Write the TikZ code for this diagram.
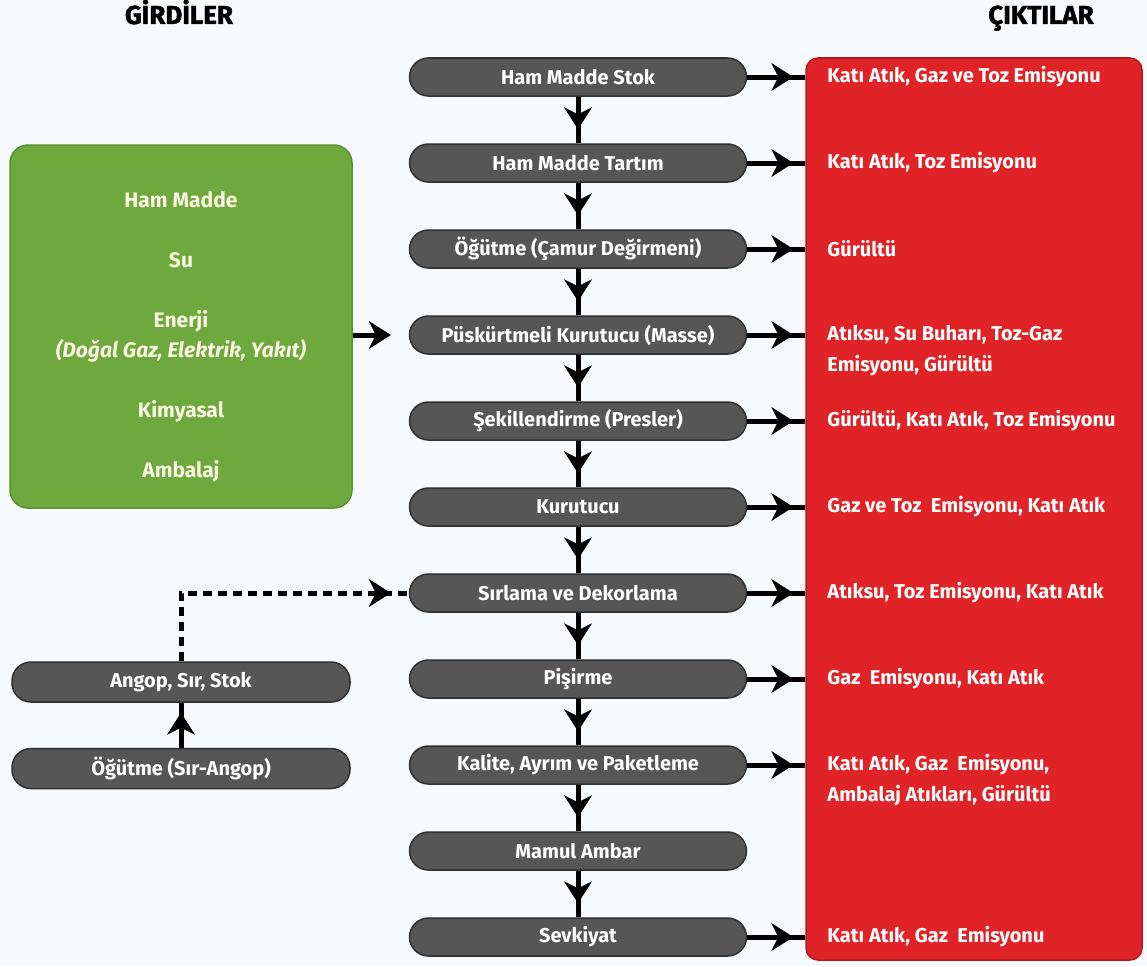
\documentclass[tikz,border=0pt]{standalone}
\usepackage{fontspec}
\setmainfont{Fira Sans}
\newfontfamily\headfont[FakeBold=1.5]{Fira Sans}
\usetikzlibrary{positioning,arrows.meta,decorations.markings}

\definecolor{adimgri}{HTML}{565656}
\definecolor{adimkenar}{HTML}{2F2F2F}
\definecolor{girdiyesil}{HTML}{6DA93C}
\definecolor{yesilkenar}{HTML}{5B9231}
\definecolor{ciktikirmizi}{HTML}{E02327}
\definecolor{kirmizikenar}{HTML}{AE1B1E}
\definecolor{zemin}{HTML}{F7FAFC}
\definecolor{krem}{HTML}{FBF7E2}

\tikzset{
    ucoklu/.style={decoration={markings,
        mark=at position #1 with {\arrow{Stealth[length=22pt,width=28pt,line width=0.5pt]}}},
        postaction={decorate}},
}

\begin{document}
\begin{tikzpicture}[x=1pt,y=1pt,
    adim/.style={draw=adimkenar, line width=1.5pt, fill=adimgri, rounded corners=19pt,
        minimum width=337pt, minimum height=38pt, inner sep=0pt,
        text=white, font=\fontsize{20}{22}\selectfont\bfseries},
    yanadim/.style={adim, minimum width=338pt, minimum height=40pt},
    girdikutu/.style={draw=yesilkenar, line width=1.5pt, fill=girdiyesil, rounded corners=18pt,
        minimum width=342pt, minimum height=363pt},
    ciktikutu/.style={draw=kirmizikenar, line width=1.5pt, fill=ciktikirmizi, rounded corners=12pt,
        minimum width=336pt, minimum height=902pt},
    ciktiyazi/.style={anchor=west, xshift=22pt, align=left, text=white, inner sep=0pt,
        font=\fontsize{20}{31}\selectfont\bfseries},
    baslik/.style={anchor=base, font=\headfont\fontsize{26}{28}\selectfont\bfseries, text=black},
    akis/.style={line width=5pt, ucoklu=-14pt},
    yanakis/.style={line width=5pt, ucoklu=-12pt},
    kesikli/.style={line width=5pt, dash pattern=on 9pt off 6pt, ucoklu=-18pt},
    yukari/.style={line width=5pt, ucoklu=-10pt},
]
\useasboundingbox (0,0) rectangle (1147,-966);
\fill[zemin] (0,0) rectangle (1147,-966);

\node[baslik] (girdiler) at (179,-24) {GİRDİLER};
\node[baslik] (ciktilar) at (1041,-24) {ÇIKTILAR};

\node[girdikutu] (girdi) at (181,-326.5) {};
\node[align=center, text=krem, font=\fontsize{21}{30}\selectfont\bfseries] (girdiyazi) at (181,-337)
    {Ham Madde\\[30pt] Su\\[30pt] Enerji\\ \textit{(Doğal Gaz, Elektrik, Yakıt)}\\[30pt] Kimyasal\\[30pt] Ambalaj};

\node[ciktikutu] (cikti) at (974,-509) {};

\node[adim] (m1) at (578,-77) {Ham Madde Stok};
\node[adim, below=46.5pt of m1] (m2) {Ham Madde Tartım};
\node[adim, below=46.5pt of m2] (m3) {Öğütme (Çamur Değirmeni)};
\node[adim, below=46.5pt of m3] (m4) {Püskürtmeli Kurutucu (Masse)};
\node[adim, below=46.5pt of m4] (m5) {Şekillendirme (Presler)};
\node[adim, below=46.5pt of m5] (m6) {Kurutucu};
\node[adim, below=46.5pt of m6] (m7) {Sırlama ve Dekorlama};
\node[adim, below=46.5pt of m7] (m8) {Pişirme};
\node[adim, below=46.5pt of m8] (m9) {Kalite, Ayrım ve Paketleme};
\node[adim, below=46.5pt of m9] (m10) {Mamul Ambar};
\node[adim, below=46.5pt of m10] (m11) {Sevkiyat};

\node[yanadim] (angop) at (181,-682) {Angop, Sır, Stok};
\node[yanadim, below=45pt of angop] (ogutsir) {Öğütme (Sır-Angop)};

\node[ciktiyazi] (c1) at (m1 -| cikti.west) {Katı Atık, Gaz ve Toz Emisyonu};
\node[ciktiyazi] (c2) at (m2 -| cikti.west) {Katı Atık, Toz Emisyonu};
\node[ciktiyazi] (c3) at (m3 -| cikti.west) {Gürültü};
\node[ciktiyazi, yshift=-15.5pt] (c4) at (m4 -| cikti.west) {Atıksu, Su Buharı, Toz-Gaz\\ Emisyonu, Gürültü};
\node[ciktiyazi] (c5) at (m5 -| cikti.west) {Gürültü, Katı Atık, Toz Emisyonu};
\node[ciktiyazi] (c6) at (m6 -| cikti.west) {Gaz ve Toz~ Emisyonu, Katı Atık};
\node[ciktiyazi] (c7) at (m7 -| cikti.west) {Atıksu, Toz Emisyonu, Katı Atık};
\node[ciktiyazi] (c8) at (m8 -| cikti.west) {Gaz~ Emisyonu, Katı Atık};
\node[ciktiyazi, yshift=-15.5pt] (c9) at (m9 -| cikti.west) {Katı Atık, Gaz~ Emisyonu,\\ Ambalaj Atıkları, Gürültü};
\node[ciktiyazi] (c11) at (m11 -| cikti.west) {Katı Atık, Gaz~ Emisyonu};

\draw[akis] (m1) -- (m2);
\draw[akis] (m2) -- (m3);
\draw[akis] (m3) -- (m4);
\draw[akis] (m4) -- (m5);
\draw[akis] (m5) -- (m6);
\draw[akis] (m6) -- (m7);
\draw[akis] (m7) -- (m8);
\draw[akis] (m8) -- (m9);
\draw[akis] (m9) -- (m10);
\draw[akis] (m10) -- (m11);

\draw[yanakis] (m1.east) -- (m1 -| cikti.west);
\draw[yanakis] (m2.east) -- (m2 -| cikti.west);
\draw[yanakis] (m3.east) -- (m3 -| cikti.west);
\draw[yanakis] (m4.east) -- (m4 -| cikti.west);
\draw[yanakis] (m5.east) -- (m5 -| cikti.west);
\draw[yanakis] (m6.east) -- (m6 -| cikti.west);
\draw[yanakis] (m7.east) -- (m7 -| cikti.west);
\draw[yanakis] (m8.east) -- (m8 -| cikti.west);
\draw[yanakis] (m9.east) -- (m9 -| cikti.west);
\draw[yanakis] (m11.east) -- (m11 -| cikti.west);

\draw[-{Stealth[length=22pt,width=28pt,line width=0.5pt]}, line width=5pt, shorten >=18pt]
    (girdi.east |- m4) -- (m4.west);

\draw[kesikli] (angop.north) |- (m7.west);
\draw[yukari] (ogutsir) -- (angop);
\end{tikzpicture}
\end{document}
